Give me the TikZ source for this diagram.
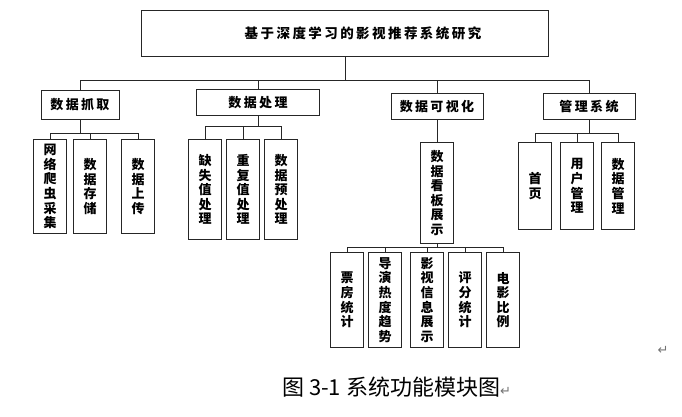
\documentclass[tikz,border=0pt]{standalone}
\usepackage{fontspec}
\newfontfamily\cjk{Noto Sans CJK SC}
\newfontfamily\cjkwide{Noto Sans CJK SC}[LetterSpace=18]
\newfontfamily\symfont{DejaVu Sans}
\usetikzlibrary{positioning}

\begin{document}
\begin{tikzpicture}[x=1pt,y=-1pt,
titlebox/.style = {rectangle, draw=black!85, line width=1pt, anchor=north west,
	minimum width=407pt, minimum height=46pt, font=\cjkwide\bfseries\fontsize{13.5}{15}\selectfont},
modbox/.style = {rectangle, draw=black!85, line width=1pt, anchor=north, inner sep=0pt,
	minimum height=26pt, font=\cjkwide\bfseries\fontsize{13}{15}\selectfont},
subbox/.style = {rectangle, draw=black!85, line width=1pt, anchor=north, inner sep=0pt,
	minimum width=33pt, align=center, font=\cjk\bfseries\fontsize{13}{14.6}\selectfont},
link/.style = {draw=black!85, line width=0.8pt}]

\useasboundingbox (0,0) rectangle (682,416);

% top level
\node [titlebox] (sys) at (141,10) {\hspace*{36pt}基于深度学习的影视推荐系统研究};

% modules
\node [modbox, minimum width=78pt, minimum height=29pt] (grab) at (80,90) {数据抓取};
\node [modbox, minimum width=123pt] (proc) at (258,89) {数据处理};
\node [modbox, minimum width=92pt] (vis) at (437,93) {数据可视化};
\node [modbox, minimum width=92pt] (admin) at (589,93) {管理系统};

% sub modules
\node [subbox, minimum height=94pt] (crawl) at (50,139) {网\\络\\爬\\虫\\采\\集};
\node [subbox, minimum height=94pt] (store) at (90,139) {数\\据\\存\\储};
\node [subbox, minimum height=94pt] (upload) at (138,139) {数\\据\\上\\传};

\node [subbox, minimum height=100pt] (miss) at (205,139) {缺\\失\\值\\处\\理};
\node [subbox, minimum height=100pt] (dup) at (243,139) {重\\复\\值\\处\\理};
\node [subbox, minimum height=100pt] (pre) at (281,139) {数\\据\\预\\处\\理};

\node [subbox, minimum height=101pt] (board) at (437,142) {数\\据\\看\\板\\展\\示};
\node [subbox, minimum height=95pt] (boxoff) at (347,252) {票\\房\\统\\计};
\node [subbox, minimum height=95pt] (director) at (385,252) {导\\演\\热\\度\\趋\\势};
\node [subbox, minimum height=95pt] (info) at (427,252) {影\\视\\信\\息\\展\\示};
\node [subbox, minimum height=95pt] (score) at (465,252) {评\\分\\统\\计};
\node [subbox, minimum height=95pt] (ratio) at (503,252) {电\\影\\比\\例};

\node [subbox, minimum height=87pt] (home) at (535,142) {首\\页};
\node [subbox, minimum height=87pt] (user) at (577,142) {用\\户\\管\\理};
\node [subbox, minimum height=87pt] (datamgr) at (618,142) {数\\据\\管\\理};

% caption
\node [anchor=west, inner sep=0pt, font=\cjk\fontsize{22}{24}\selectfont] (cap) at (282,387)
	{图 3-1 系统功能模块图{\symfont\color{black!55}\fontsize{13}{14}\selectfont ↵}};
\node [inner sep=0pt, font=\symfont\fontsize{13}{14}\selectfont, text=black!55] (mark) at (663,350) {↵};

% connectors
\foreach \c in {grab,proc,vis,admin}
	\path [link] (sys.south) -- ++(0,23) -| (\c.north);
\foreach \c in {crawl,store,upload}
	\path [link] (grab.south) -- ++(0,13) -| (\c.north);
\foreach \c in {miss,dup,pre}
	\path [link] (proc.south) -- ++(0,10) -| (\c.north);
\path [link] (vis.south) -- (board.north);
\foreach \c in {boxoff,director,info,score,ratio}
	\path [link] (board.south) -- ++(0,3) -| (\c.north);
\foreach \c in {home,user,datamgr}
	\path [link] (admin.south) -- ++(0,13) -| (\c.north);

\end{tikzpicture}
\end{document}
